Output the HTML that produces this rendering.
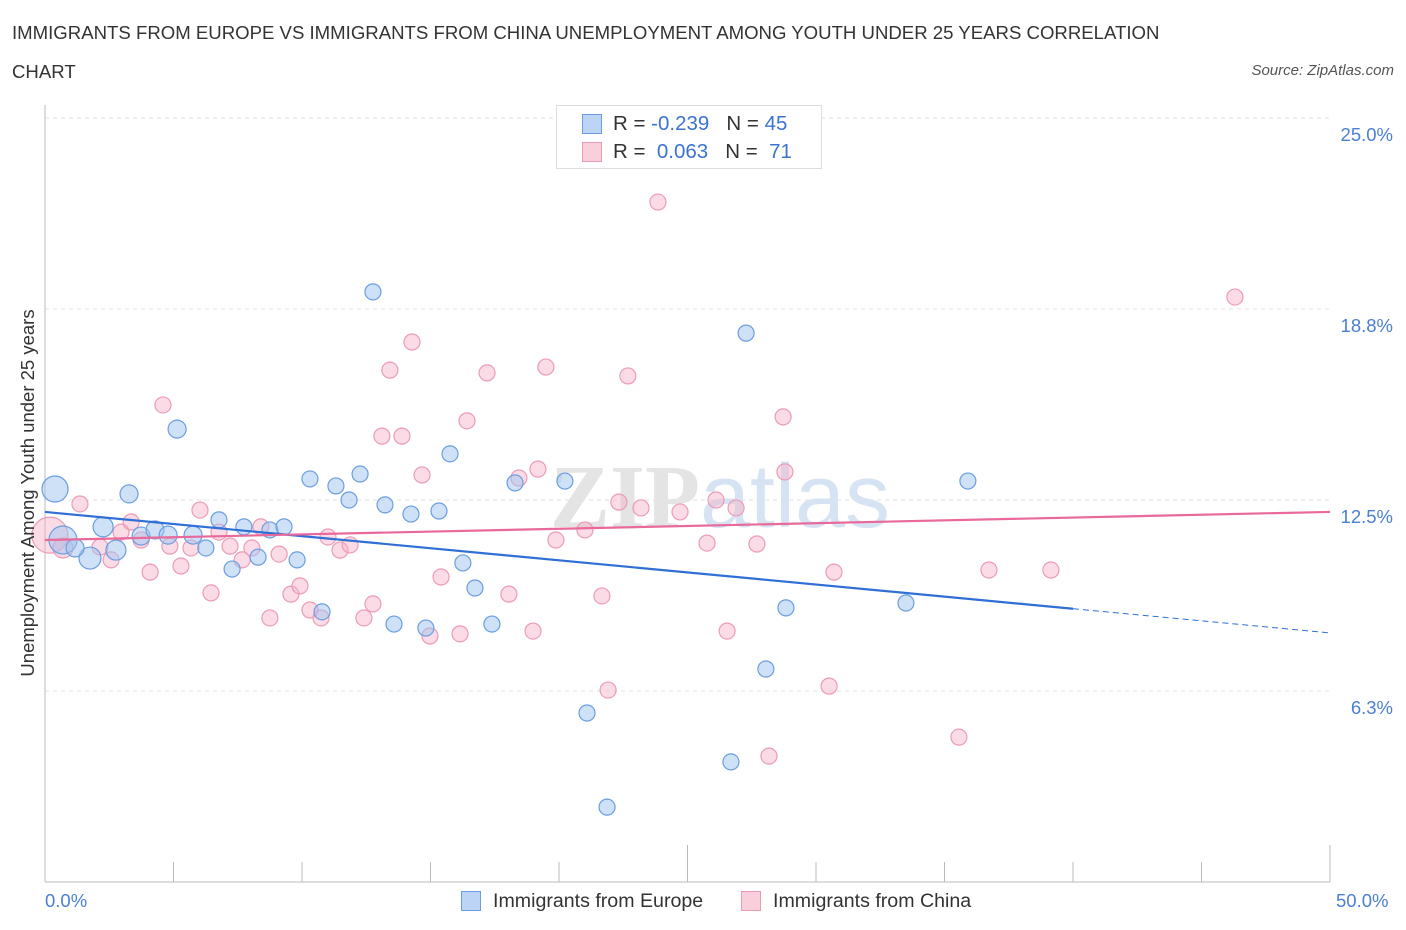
<!DOCTYPE html>
<html><head><meta charset="utf-8">
<style>
body{margin:0;background:#fff;font-family:"Liberation Sans",sans-serif;}
#wrap{position:relative;width:1406px;height:930px;overflow:hidden;}
.t{position:absolute;white-space:nowrap;}
</style></head>
<body>
<div id="wrap">
<div class="t" style="left:12px;top:22px;font-size:18.6px;color:#333;">IMMIGRANTS FROM EUROPE VS IMMIGRANTS FROM CHINA UNEMPLOYMENT AMONG YOUTH UNDER 25 YEARS CORRELATION</div>
<div class="t" style="left:12px;top:61px;font-size:18.6px;color:#333;">CHART</div>
<div class="t" style="right:12px;top:62px;font-size:15px;color:#555;font-style:italic;">Source: ZipAtlas.com</div>
<svg id="svg" width="1406" height="930" style="position:absolute;left:0;top:0;"></svg>
</div>
<script>
const blueX=[0.39,0.70,1.75,1.17,2.76,2.26,3.27,3.74,4.28,4.79,5.14,5.76,6.26,6.77,7.28,7.74,8.29,8.75,9.30,9.81,10.31,10.78,11.32,11.83,12.26,12.76,13.23,13.58,14.24,14.82,15.33,15.76,16.26,16.73,17.39,18.29,20.23,21.09,21.87,26.69,27.28,28.05,28.83,33.50,35.91];
const blueY=[12.86,11.19,10.60,10.93,10.86,11.62,12.70,11.32,11.52,11.35,14.82,11.35,10.93,11.85,10.24,11.62,10.63,11.52,11.62,10.54,13.19,8.84,12.96,12.50,13.35,19.31,12.34,8.44,12.04,8.31,12.14,14.01,10.44,9.62,8.44,13.06,13.12,5.53,2.45,3.93,17.96,6.97,8.97,9.13,13.12];
const blueR=[13,14,11,9,10,10,9,9,9,9,9,9,8,8,8,8,8,8,8,8,8,8,8,8,8,8,8,8,8,8,8,8,8,8,8,8,8,8,8,8,8,8,8,8,8];
const pinkX=[0.19,0.70,1.36,2.14,2.57,2.96,3.35,3.74,4.09,4.59,4.86,5.29,5.68,6.03,6.46,6.77,7.20,7.67,8.05,8.40,8.75,9.11,9.57,9.92,10.31,10.74,11.01,11.48,11.87,12.41,12.76,13.11,13.42,13.89,14.28,14.67,14.98,15.41,16.15,16.42,17.20,18.05,18.44,18.99,19.18,19.49,19.88,21.01,21.67,21.91,22.33,22.68,23.19,23.85,24.71,25.76,26.11,26.54,26.89,27.70,28.17,28.72,28.79,30.51,30.70,35.56,36.73,39.14,46.30];
const pinkY=[11.35,10.93,12.37,10.96,10.54,11.45,11.78,11.19,10.14,15.61,10.99,10.34,10.93,12.17,9.46,11.45,10.99,10.54,10.93,11.62,8.64,10.73,9.42,9.69,8.90,8.64,11.29,10.86,11.03,8.64,9.10,14.59,16.75,14.59,17.67,13.32,8.05,9.98,8.12,15.09,16.66,9.42,13.22,8.21,13.51,16.85,11.19,11.52,9.36,6.28,12.43,16.56,12.24,22.25,12.11,11.09,12.50,8.21,12.24,11.06,4.12,15.22,13.42,6.41,10.14,4.74,10.21,10.21,19.14];
const pinkR=[18,10].concat(Array(67).fill(8));
const yTicks=[25.0,18.75,12.5,6.25];
const yTickLabels=["25.0%","18.8%","12.5%","6.3%"];
const blueTrend=[12.11,8.15]; const blueSolidEnd=40;
const pinkTrend=[11.19,12.11];

const X=v=>45+v*25.7, Y=v=>882-v*30.56;
const svg=document.getElementById('svg');
const NS='http://www.w3.org/2000/svg';
function mk(tag,attrs){const e=document.createElementNS(NS,tag);for(const k in attrs)e.setAttribute(k,attrs[k]);svg.appendChild(e);return e;}
yTicks.forEach((v,i)=>{
  const g=mk('line',{x1:45,x2:1330,y1:Y(v),y2:Y(v),stroke:'#e2e2e2','stroke-dasharray':'4,4'});
  
  
  const t=mk('text',{x:1393,y:Y(v)+23,'text-anchor':'end','font-size':18.5,fill:'#4a7fd4','font-family':'Liberation Sans'});
  t.textContent=yTickLabels[i];
  
  
});
let a=mk('line',{x1:45,x2:45,y1:105,y2:882,stroke:'#bbb'});

a=mk('line',{x1:45,x2:1330,y1:882,y2:882,stroke:'#bbb'});

for(let i=0;i<=10;i++){const x=X(i*5);const tl=mk('line',{x1:x,x2:x,y1:(i==5||i==10)?845:862,y2:882,stroke:'#bbb'});
}
let wm=mk('text',{x:720,y:527,'text-anchor':'middle','font-size':90,fill:'#e4e4e4','font-family':'Liberation Serif','font-weight':'bold'});
wm.innerHTML='ZIP<tspan fill="#d6e3f3" font-family="Liberation Sans" font-weight="normal">atlas</tspan>';

pinkX.forEach((v,i)=>{const c=mk('circle',{cx:X(v),cy:Y(pinkY[i]),r:pinkR[i],fill:'rgba(246,178,200,0.45)',stroke:'#ec9bb5','stroke-width':1.2});
});
blueX.forEach((v,i)=>{const c=mk('circle',{cx:X(v),cy:Y(blueY[i]),r:blueR[i],fill:'rgba(160,196,240,0.5)',stroke:'#6a9ee0','stroke-width':1.2});
});
const by=x=>blueTrend[0]+(blueTrend[1]-blueTrend[0])*x/50;
let l=mk('line',{x1:X(0),y1:Y(by(0)),x2:X(blueSolidEnd),y2:Y(by(blueSolidEnd)),stroke:'#2f6fd6','stroke-width':2.2});

l=mk('line',{x1:X(blueSolidEnd),y1:Y(by(blueSolidEnd)),x2:X(50),y2:Y(by(50)),stroke:'#2f6fd6','stroke-width':1,'stroke-dasharray':'6,4'});

l=mk('line',{x1:X(0),y1:Y(pinkTrend[0]),x2:X(50),y2:Y(pinkTrend[1]),stroke:'#e8699a','stroke-width':2.2});

</script>
<div class="t" style="left:556px;top:105px;width:264px;height:62px;border:1px solid #ddd;background:#fff;">
 <div class="t" style="left:25px;top:8px;width:18px;height:18px;background:#bcd4f5;border:1px solid #6a9ee0;"></div>
 <div class="t" style="left:56px;top:6px;font-size:20.5px;color:#333;">R = <span style="color:#3b73d1">-0.239</span>&nbsp;&nbsp;&nbsp;N = <span style="color:#3b73d1">45</span></div>
 <div class="t" style="left:25px;top:36px;width:18px;height:18px;background:#f9cfdc;border:1px solid #ec9bb5;"></div>
 <div class="t" style="left:56px;top:34px;font-size:20.5px;color:#333;">R = &nbsp;<span style="color:#3b73d1">0.063</span>&nbsp;&nbsp;&nbsp;N = &nbsp;<span style="color:#3b73d1">71</span></div>
</div>
<div class="t" style="top:493px;font-size:18.5px;color:#333;transform:translate(-50%,-50%) rotate(-90deg);left:28px;">Unemployment Among Youth under 25 years</div>
<div class="t" style="left:45px;top:890px;font-size:18.5px;color:#4a7fd4;">0.0%</div>
<div class="t" style="left:1336px;top:890px;font-size:18.5px;color:#4a7fd4;">50.0%</div>
<div class="t" style="left:461px;top:891px;width:20px;height:20px;background:#bcd4f5;border:1px solid #6a9ee0;box-sizing:border-box;"></div>
<div class="t" style="left:493px;top:890px;font-size:19.6px;color:#333;">Immigrants from Europe</div>
<div class="t" style="left:741px;top:891px;width:20px;height:20px;background:#f9cfdc;border:1px solid #ec9bb5;box-sizing:border-box;"></div>
<div class="t" style="left:773px;top:890px;font-size:19.6px;color:#333;">Immigrants from China</div>
</body></html>
